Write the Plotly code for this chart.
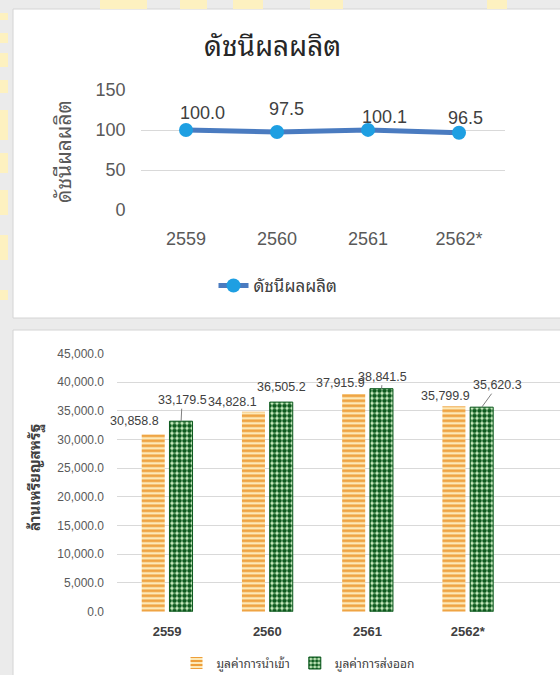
import plotly.graph_objects as go

# ---------------- data ----------------
years = ["2559", "2560", "2561", "2562*"]
index_values = [100.0, 97.5, 100.1, 96.5]
index_name = "ดัชนีผลผลิต"

import_values = [30858.8, 34828.1, 37915.9, 35799.9]
export_values = [33179.5, 36505.2, 38841.5, 35620.3]
import_name = "มูลค่าการนำเข้า"
export_name = "มูลค่าการส่งออก"
bar_yaxis_title = "ล้านเหรียญสหรัฐ"

top_ticks = [0, 50, 100, 150]
bottom_ticks = [0, 5000, 10000, 15000, 20000, 25000, 30000, 35000, 40000, 45000]

W, H = 560, 675
THAI = ("Noto Sans Thai Looped, Loma, Garuda, Tahoma, Noto Sans Thai, "
        "Noto Sans, DejaVu Sans, sans-serif")
NUM = "Liberation Sans, Arial, sans-serif"

def px_x(x):
    return x / W

def px_y(y):
    return 1 - y / H

fig = go.Figure()

# top line chart
fig.add_trace(go.Scatter(
    x=years, y=index_values, name=index_name, mode="lines+markers",
    line=dict(color="#4a7bc0", width=5),
    marker=dict(color="#1e9fe2", size=14),
    xaxis="x", yaxis="y", legend="legend", showlegend=True,
))

# bottom bar chart
fig.add_trace(go.Bar(
    x=years, y=import_values, name=import_name,
    marker=dict(color="#fde9b8",
                pattern=dict(shape="-", fgcolor="#ee9f3a", bgcolor="#fde9b8",
                             size=5, solidity=0.5, fillmode="replace"),
                line=dict(width=0)),
    xaxis="x2", yaxis="y2", legend="legend2", showlegend=True,
))
fig.add_trace(go.Bar(
    x=years, y=export_values, name=export_name,
    marker=dict(color="#d2f4c8",
                pattern=dict(shape=".", fgcolor="#0d5a1e", bgcolor="#d2f4c8",
                             size=5, solidity=0.65, fillmode="replace"),
                line=dict(width=1, color="#0d5a1e")),
    xaxis="x2", yaxis="y2", legend="legend2", showlegend=True,
))

# ---------------- background panels ----------------
shapes = [
    dict(type="rect", xref="paper", yref="paper", x0=px_x(13), x1=px_x(562),
         y0=px_y(318), y1=px_y(9), fillcolor="white",
         line=dict(color="#d4d4d4", width=1), layer="below"),
    dict(type="rect", xref="paper", yref="paper", x0=px_x(13), x1=px_x(562),
         y0=px_y(677), y1=px_y(330), fillcolor="white",
         line=dict(color="#d4d4d4", width=1), layer="below"),
]
# faint yellow watermark pieces in the gray margins
for (x0, x1) in [(100, 147), (180, 207), (233, 263), (310, 343), (487, 507)]:
    shapes.append(dict(type="rect", xref="paper", yref="paper",
                       x0=px_x(x0), x1=px_x(x1), y0=px_y(9), y1=px_y(0),
                       fillcolor="#fdf1c0", line=dict(width=0), layer="below"))
for (y0, y1) in [(13, 20), (33, 43), (53, 67), (80, 93), (110, 140), (153, 173),
                 (190, 215), (235, 260), (290, 300)]:
    shapes.append(dict(type="rect", xref="paper", yref="paper",
                       x0=0, x1=px_x(8), y0=px_y(y1), y1=px_y(y0),
                       fillcolor="#fdf1c0", line=dict(width=0), layer="below"))

# ---------------- annotations ----------------
ann = []
# top title
ann.append(dict(text=index_name, xref="paper", yref="paper", x=px_x(272), y=px_y(43),
                showarrow=False, font=dict(family=THAI, size=28, color="#262626"),
                xanchor="center", yanchor="middle"))
# top y title
ann.append(dict(text=index_name, xref="paper", yref="paper", x=px_x(62), y=px_y(152),
                showarrow=False, textangle=-90,
                font=dict(family=THAI, size=21, color="#595959"),
                xanchor="center", yanchor="middle"))
# top value labels (category index positions)
top_label_shift = [(16, 17), (9, 23), (16, 13), (6, 15)]
for i, (v, (dx, dy)) in enumerate(zip(index_values, top_label_shift)):
    ann.append(dict(text=f"{v:.1f}", xref="x", yref="y", x=i, y=v,
                    showarrow=False, xshift=dx, yshift=dy,
                    font=dict(family=NUM, size=18, color="#404040"),
                    xanchor="center", yanchor="middle"))
# bottom y title
ann.append(dict(text=f"<b>{bar_yaxis_title}</b>", xref="paper", yref="paper",
                x=px_x(33), y=px_y(478), showarrow=False, textangle=-90,
                font=dict(family=THAI, size=15, color="#404040"),
                xanchor="center", yanchor="middle"))

# bottom value labels: import bars
imp_shift = [(-33, 14), (-35, 10), (-27, 11), (-22, 10)]
for i, (v, (dx, dy)) in enumerate(zip(import_values, imp_shift)):
    ann.append(dict(text=f"{v:,.1f}", xref="x2", yref="y2", x=i, y=v,
                    showarrow=False, xshift=dx, yshift=dy,
                    font=dict(family=NUM, size=12.5, color="#404040"),
                    xanchor="center", yanchor="middle"))
# export bars (with leader lines)
exp_spec = [(14, True, 1, -21), (14, False, 0, 15), (14, True, 1, -12), (14, True, 16, -22)]
for i, (v, (xs, arrow, ax, ay)) in enumerate(zip(export_values, exp_spec)):
    if arrow:
        ann.append(dict(text=f"{v:,.1f}", xref="x2", yref="y2", x=i, y=v,
                        showarrow=True, arrowhead=0, arrowwidth=1, arrowcolor="#7f7f7f",
                        ax=ax, ay=ay, xshift=xs, standoff=0,
                        font=dict(family=NUM, size=12.5, color="#404040")))
    else:
        ann.append(dict(text=f"{v:,.1f}", xref="x2", yref="y2", x=i, y=v,
                        showarrow=False, xshift=xs, yshift=ay,
                        font=dict(family=NUM, size=12.5, color="#404040"),
                        xanchor="center", yanchor="middle"))

fig.update_layout(
    width=W, height=H,
    margin=dict(l=0, r=0, t=0, b=0, pad=0, autoexpand=False),
    paper_bgcolor="#ebebeb",
    plot_bgcolor="rgba(0,0,0,0)",
    shapes=shapes,
    annotations=ann,
    barmode="group", bargap=0.446, bargroupgap=0.17,
    xaxis=dict(domain=[px_x(140.5), px_x(504.5)], anchor="y", type="category",
               range=[-0.5, 3.5], automargin=False,
               showgrid=False, showline=False, zeroline=False, ticks="",
               ticklabelstandoff=16,
               tickfont=dict(family=NUM, size=18, color="#595959")),
    yaxis=dict(domain=[px_y(210), px_y(90)], anchor="x", range=[0, 150],
               automargin=False,
               tickvals=top_ticks, showgrid=True, gridcolor="#d9d9d9", gridwidth=1,
               zeroline=False, showline=False, ticks="", ticklabelstandoff=14,
               tickfont=dict(family=NUM, size=18, color="#595959")),
    xaxis2=dict(domain=[px_x(117), 1.0], anchor="y2", range=[-0.5, 3.92],
                automargin=False,
                type="category", showgrid=False, showline=False, zeroline=False,
                ticks="", ticklabelstandoff=10,
                tickfont=dict(family=NUM, size=13, color="#404040", weight="bold")),
    yaxis2=dict(domain=[px_y(611.7), px_y(353.3)], anchor="x2", range=[0, 45000],
                automargin=False,
                tickvals=bottom_ticks, tickformat=",.1f", showgrid=True,
                gridcolor="#d9d9d9", gridwidth=1, zeroline=False, showline=False,
                ticks="", ticklabelstandoff=12,
                tickfont=dict(family=NUM, size=12, color="#595959")),
    legend=dict(orientation="h", x=px_x(278), y=px_y(286), xanchor="center",
                yanchor="middle", bgcolor="rgba(0,0,0,0)",
                font=dict(family=THAI, size=17, color="#404040")),
    legend2=dict(orientation="h", x=px_x(298), y=px_y(663), xanchor="center",
                 yanchor="middle", bgcolor="rgba(0,0,0,0)", itemwidth=30,
                 font=dict(family=THAI, size=12, color="#404040")),
)

fig.write_html(
    "out.html",
    config={"displayModeBar": False},
    post_script="document.body.style.margin='0px';document.body.style.background='#ebebeb';",
)
